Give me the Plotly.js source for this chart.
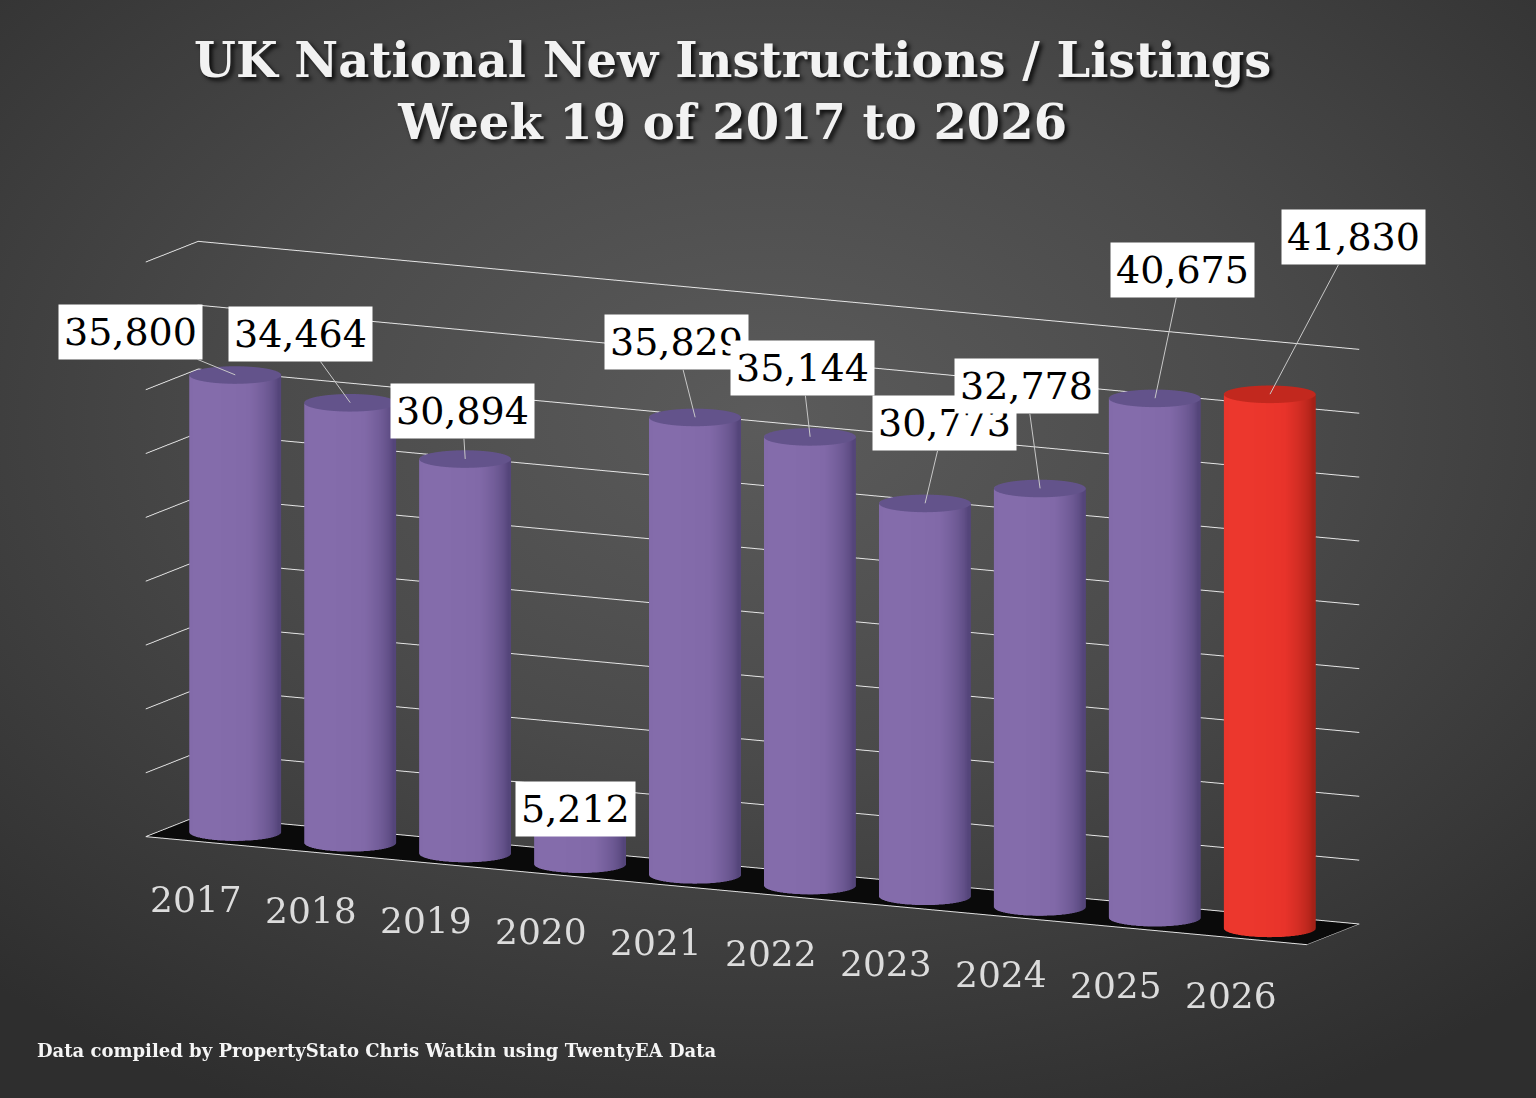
<!DOCTYPE html>
<html>
<head>
<meta charset="utf-8">
<script src="https://cdn.plot.ly/plotly-3.0.1.min.js"></script>
<style>
  html, body { margin: 0; padding: 0; }
  body {
    width: 1536px; height: 1098px; overflow: hidden;
    background: radial-gradient(ellipse 75% 70% at 50% 38%, #5b5b5b 0%, #4a4a4a 45%, #2e2e2e 100%);
  }
  #chart { width: 1536px; height: 1098px; }
</style>
</head>
<body>
<div id="chart"></div>
<script>
// week 19 new instructions, 2017 - 2026
const years = [2017, 2018, 2019, 2020, 2021, 2022, 2023, 2024, 2025, 2026];
const listings = [35800, 34464, 30894, 5212, 35829, 35144, 30773, 32778, 40675, 41830];
const valueLabels = ['35,800', '34,464', '30,894', '5,212', '35,829', '35,144', '30,773', '32,778', '40,675', '41,830'];
const isCurrent = [false, false, false, false, false, false, false, false, false, true];
// label offsets (px) from the top of each cylinder
const labelDx = [-105, -50, -3, -5, -19, -8, 19, -14, 27, 83];
const labelDy = [-43, -69, -48, 11, -75, -69, -80, -102, -128, -157];

// shading ramps: cap colour, shadowed edge, lit face
const purpleScale = [[0, '#63538b'], [0.2, '#54457a'], [0.75, '#8169a8'], [1, '#846cab']];
const redScale = [[0, '#c2281e'], [0.2, '#a52117'], [0.75, '#e8332a'], [1, '#ec372d']];

const radius = 0.36;
const segs = 64;
const lightAngle = -1.85;   // direction the lit side of the cylinders faces

function shade(a) {
    const d = Math.cos(a - lightAngle);
    return 0.2 + 0.8 * Math.pow(Math.max(0, (d + 0.35) / 1.35), 0.8);
}

function cylinder(xc, h, current) {
    const x = [], y = [], z = [], i = [], j = [], k = [], v = [];
    for (let ring = 0; ring < 2; ring++) {
        for (let s = 0; s < segs; s++) {
            const a = 2 * Math.PI * s / segs;
            x.push(xc + radius * Math.cos(a));
            y.push(radius * Math.sin(a));
            z.push(ring ? h : 0);
            v.push(shade(a));
        }
    }
    for (let s = 0; s < segs; s++) {
        const n = (s + 1) % segs;
        i.push(s); j.push(n); k.push(segs + s);
        i.push(n); j.push(segs + n); k.push(segs + s);
    }
    // top cap
    const c = x.length;
    x.push(xc); y.push(0); z.push(h); v.push(0);
    for (let s = 0; s < segs; s++) {
        const a = 2 * Math.PI * s / segs;
        x.push(xc + radius * Math.cos(a)); y.push(radius * Math.sin(a)); z.push(h); v.push(0);
    }
    for (let s = 0; s < segs; s++) {
        i.push(c); j.push(c + 1 + s); k.push(c + 1 + (s + 1) % segs);
    }
    return {
        type: 'mesh3d', x, y, z, i, j, k,
        intensity: v,
        intensitymode: 'vertex',
        colorscale: current ? redScale : purpleScale,
        cmin: 0, cmax: 1,
        showscale: false,
        flatshading: false,
        hoverinfo: 'skip',
        lighting: {ambient: 1, diffuse: 0, specular: 0, roughness: 1, fresnel: 0}
    };
}

const data = years.map((yr, n) => cylinder(yr, listings[n], isCurrent[n]));

const valueNotes = years.map((yr, n) => ({
    x: yr, y: 0, z: listings[n],
    text: valueLabels[n],
    showarrow: true,
    arrowhead: 0,
    arrowwidth: 1,
    arrowcolor: '#c8c8c8',
    ax: labelDx[n],
    ay: labelDy[n],
    bgcolor: '#ffffff',
    borderpad: 5,
    font: {family: 'DejaVu Serif', size: 38, color: '#000000'}
}));

const yearNotes = years.map(yr => ({
    x: yr, y: -0.47, z: 0,
    text: String(yr),
    showarrow: false,
    xshift: -13,
    yshift: -57,
    font: {family: 'DejaVu Serif', size: 36, color: '#dcdcdc'}
}));

const layout = {
    width: 1536,
    height: 1098,
    paper_bgcolor: 'rgba(0,0,0,0)',
    plot_bgcolor: 'rgba(0,0,0,0)',
    showlegend: false,
    margin: {l: 0, r: 0, t: 0, b: 0},
    title: {
        text: 'UK National New Instructions / Listings<br>Week 19 of 2017 to 2026',
        x: 0.477,
        xanchor: 'center',
        yref: 'container',
        y: 0.93,
        yanchor: 'middle',
        font: {
            family: 'DejaVu Serif',
            weight: 'bold',
            size: 48,
            color: '#f2f2f2',
            shadow: '3px 3px 4px rgba(0,0,0,0.85)'
        }
    },
    scene: {
        domain: {x: [0, 0.98], y: [0.04, 0.88]},
        bgcolor: 'rgba(0,0,0,0)',
        aspectmode: 'manual',
        aspectratio: {x: 2.8, y: 0.26, z: 1.27},
        camera: {
            eye: {x: 1.03, y: -2.12, z: 0.46},
            center: {x: 0, y: 0, z: 0},
            up: {x: 0, y: 0, z: 1},
            projection: {type: 'orthographic'}
        },
        xaxis: {
            range: [2016.45, 2026.55],
            showticklabels: false,
            title: {text: ''},
            showgrid: false, zeroline: false,
            showline: true, linecolor: '#e0e0e0', linewidth: 2,
            ticks: '', showbackground: false, showspikes: false
        },
        yaxis: {
            range: [-0.47, 0.47],
            showticklabels: false,
            title: {text: ''},
            showgrid: false, zeroline: false,
            showline: true, linecolor: '#e0e0e0',
            ticks: '', showbackground: false, showspikes: false
        },
        zaxis: {
            range: [0, 45000],
            dtick: 5000,
            showticklabels: false,
            title: {text: ''},
            showgrid: true, gridcolor: '#e6e6e6', gridwidth: 2,
            zeroline: false, showline: false, ticks: '',
            showbackground: true, backgroundcolor: '#0a0a0a',
            showspikes: false
        },
        annotations: yearNotes.concat(valueNotes)
    },
    annotations: [{
        text: '<b>Data compiled by PropertyStato Chris Watkin using TwentyEA Data</b>',
        xref: 'paper', yref: 'paper',
        x: 0.023, y: 0.043,
        xanchor: 'left', yanchor: 'middle',
        showarrow: false,
        font: {family: 'DejaVu Serif', size: 18, color: '#f5f5f5'}
    }]
};

Plotly.newPlot('chart', data, layout, {displayModeBar: false});
</script>
</body>
</html>
